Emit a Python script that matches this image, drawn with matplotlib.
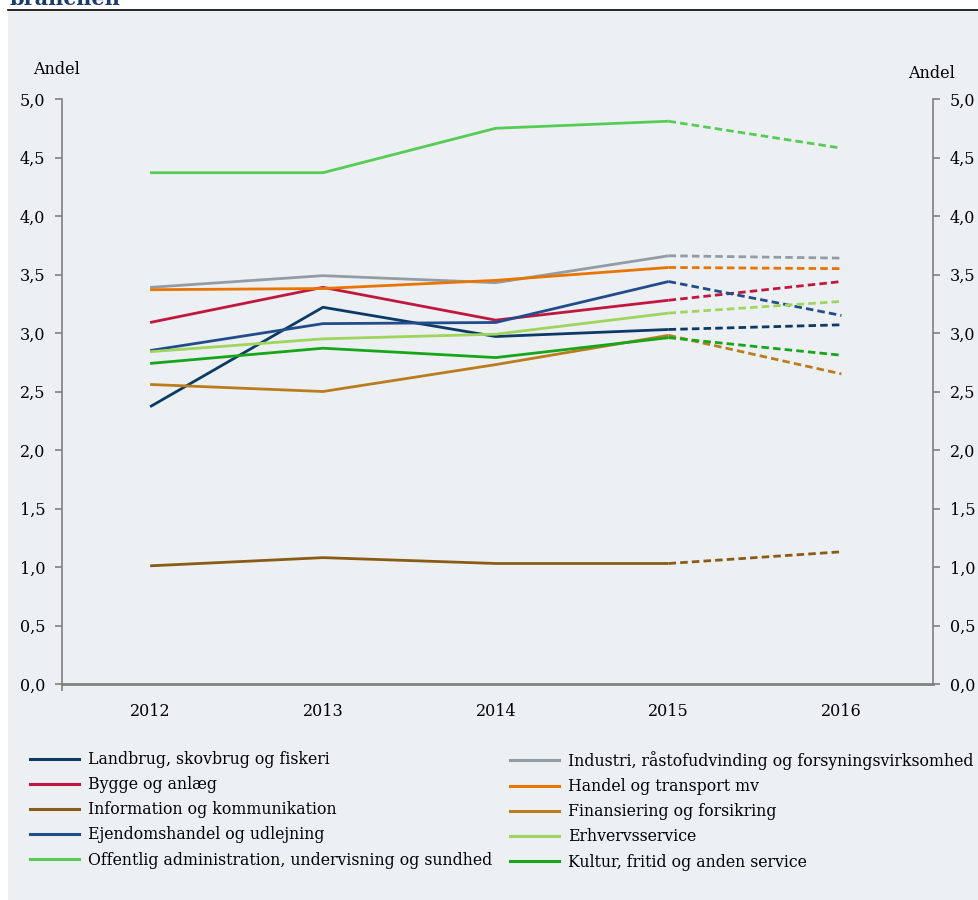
import numpy as np
import matplotlib
matplotlib.use('Agg')
import matplotlib.pyplot as plt
from matplotlib.lines import Line2D

plt.rcParams['font.family'] = ['DejaVu Serif']

years = [2012, 2013, 2014, 2015, 2016]

labels = [
    'Landbrug, skovbrug og fiskeri',
    'Industri, råstofudvinding og forsyningsvirksomhed',
    'Bygge og anlæg',
    'Handel og transport mv',
    'Information og kommunikation',
    'Finansiering og forsikring',
    'Ejendomshandel og udlejning',
    'Erhvervsservice',
    'Offentlig administration, undervisning og sundhed',
    'Kultur, fritid og anden service',
]

landbrug = [2.37, 3.22, 2.97, 3.03, 3.07]
industri = [3.39, 3.49, 3.43, 3.66, 3.64]
bygge = [3.09, 3.39, 3.11, 3.28, 3.44]
handel = [3.37, 3.38, 3.45, 3.56, 3.55]
information = [1.01, 1.08, 1.03, 1.03, 1.13]
finansiering = [2.56, 2.50, 2.73, 2.98, 2.65]
ejendom = [2.85, 3.08, 3.09, 3.44, 3.15]
erhverv = [2.84, 2.95, 2.99, 3.17, 3.27]
offentlig = [4.37, 4.37, 4.75, 4.81, 4.58]
kultur = [2.74, 2.87, 2.79, 2.96, 2.81]

series = [landbrug, industri, bygge, handel, information,
          finansiering, ejendom, erhverv, offentlig, kultur]

colors = ['#0B3A66', '#939CA4', '#C0173F', '#E97400', '#8A5A16',
          '#B97D1E', '#224C8C', '#9FD55C', '#56CC56', '#17A51A']

bg = '#ECF0F3'
W, H = 979, 900
fig = plt.figure(figsize=(W / 100, H / 100), dpi=100)

# background panel and top rule
fig.patches.append(plt.Rectangle((8 / W, 0), 1 - 8 / W, 1 - 11 / H,
                                 transform=fig.transFigure, facecolor=bg,
                                 edgecolor='none', zorder=-10))
fig.add_artist(Line2D([8 / W, 1], [1 - 10 / H, 1 - 10 / H],
                      transform=fig.transFigure, color='black', lw=1.2))
# title is cropped at the top edge in the reference
fig.text(10 / W, 1 - 5 / H, 'branchen', fontsize=15, fontweight='bold',
         color='#1B3B6B', va='baseline', ha='left')

ax = fig.add_axes([62 / W, 1 - 684 / H, (933 - 62) / W, (684 - 99) / H])
ax.set_facecolor(bg)

for vals, c in zip(series, colors):
    ax.plot(years[:4], vals[:4], color=c, lw=2.0, solid_capstyle='butt')
    ax.plot(years[3:], vals[3:], color=c, lw=2.0, dashes=(2.7, 1.5),
            dash_capstyle='butt')

ax.set_xlim(2011.49, 2016.53)
ax.set_ylim(0, 5)
yt = np.arange(0, 5.01, 0.5)
ax.set_yticks(yt)
ax.set_yticklabels([f'{v:.1f}'.replace('.', ',') for v in yt])
ax.set_xticks(years)
ax.set_xticks([2011.49], minor=True)
ax.tick_params(axis='x', which='major', length=0, pad=14, labelsize=11.5)
ax.tick_params(axis='x', which='minor', length=5, color='#808080', width=1.2)
ax.tick_params(axis='y', length=5, color='#808080', width=1.2,
               labelsize=11.5, labelleft=True, labelright=True,
               left=True, right=True, pad=7)

for s in ['left', 'right', 'bottom']:
    ax.spines[s].set_color('#808080')
    ax.spines[s].set_linewidth(1.2)
ax.spines['bottom'].set_linewidth(2)
ax.spines['top'].set_visible(False)

fig.text(57 / W, 1 - 70 / H, 'Andel', fontsize=11.5, ha='center', va='center')
fig.text(932 / W, 1 - 73 / H, 'Andel', fontsize=11.5, ha='center', va='center')

handles = [Line2D([], [], color=c, lw=2.2) for c in colors]
for col, x0 in [(0, 30), (1, 510)]:
    idx = list(range(col, 10, 2))
    leg = fig.legend([handles[i] for i in idx], [labels[i] for i in idx],
                     loc='upper left', bbox_to_anchor=(x0 / W, 1 - 751 / H),
                     frameon=False, fontsize=11.3, handlelength=3.1,
                     handletextpad=0.6, labelspacing=0.52, borderaxespad=0,
                     borderpad=0)

fig.savefig('out.png', dpi=100, facecolor='white')
